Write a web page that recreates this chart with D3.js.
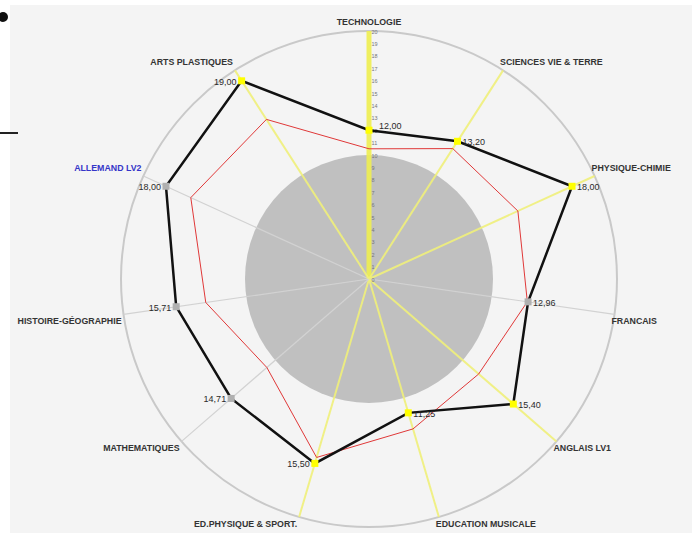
<!DOCTYPE html>
<html>
<head>
<meta charset="utf-8">
<script src="https://cdn.jsdelivr.net/npm/d3@7/dist/d3.min.js"></script>
<style>
  html, body { margin: 0; padding: 0; background: #ffffff; }
  svg { display: block; }
</style>
</head>
<body>
<svg id="chart" width="698" height="533"></svg>
<script>
// Subjects, clockwise from the top
const categories = [
  "TECHNOLOGIE", "SCIENCES VIE & TERRE", "PHYSIQUE-CHIMIE", "FRANCAIS",
  "ANGLAIS LV1", "EDUCATION MUSICALE", "ED.PHYSIQUE & SPORT.", "MATHEMATIQUES",
  "HISTOIRE-GÉOGRAPHIE", "ALLEMAND LV2", "ARTS PLASTIQUES"
];
// Student marks (labelled on the chart)
const studentScores = [12.00, 13.20, 18.00, 12.96, 15.40, 11.25, 15.50, 14.71, 15.71, 18.00, 19.00];
// Class averages (red outline)
const classAverages = [10.5, 12.5, 13.2, 12.9, 11.7, 12.6, 15.0, 10.9, 13.3, 15.8, 15.3];
// Subjects whose axis is highlighted
const highlighted = [true, true, true, false, true, true, true, false, false, false, true];
// Currently selected subject
const selectedSubject = "ALLEMAND LV2";
// Scale graduations along the first axis
const scaleTicks = [0, 1, 2, 3, 4, 5, 6, 7, 8, 9, 10, 11, 12, 13, 14, 15, 16, 17, 18, 19, 20];
const scaleMax = 20;
const passMark = 10;

const svg = d3.select("#chart");
const cx = 369, cy = 279, R = 248;
const font = "'Liberation Sans', Arial, sans-serif";

const r = d3.scaleLinear().domain([0, scaleMax]).range([0, R]);
const angle = d3.scaleLinear().domain([0, categories.length]).range([0, 2 * Math.PI]);
const ang = i => angle(i);
const pt = (i, v) => [cx + r(v) * Math.sin(ang(i)), cy - r(v) * Math.cos(ang(i))];

// Panel background and margin decorations
svg.append("rect").attr("x", 10).attr("y", 5).attr("width", 682).attr("height", 528)
  .attr("fill", "#f4f4f4");
svg.append("circle").attr("cx", 3).attr("cy", 17).attr("r", 5).attr("fill", "#111");
svg.append("line").attr("x1", 0).attr("x2", 18).attr("y1", 133).attr("y2", 133)
  .attr("stroke", "#222").attr("stroke-width", 2);

const g = svg.append("g");

// Outer ring at the maximum mark
g.append("circle").attr("cx", cx).attr("cy", cy).attr("r", r(scaleMax))
  .attr("fill", "none").attr("stroke", "#c9c9c9").attr("stroke-width", 2);

// Below-average zone
g.append("circle").attr("cx", cx).attr("cy", cy).attr("r", r(passMark))
  .attr("fill", "#c0c0c0");

// Axes
categories.forEach((c, i) => {
  const [x2, y2] = pt(i, scaleMax);
  g.append("line")
    .attr("x1", cx).attr("y1", cy).attr("x2", x2).attr("y2", y2)
    .attr("stroke", highlighted[i] ? (i === 0 ? "#eeee50" : "#f0f07a") : "#d2d2d2")
    .attr("stroke-opacity", highlighted[i] ? 0.9 : 1)
    .attr("stroke-width", highlighted[i] ? (i === 0 ? 5 : 2) : 1.2);
});

// Graduations along the first axis
g.selectAll("text.tick").data(scaleTicks).enter().append("text")
  .attr("class", "tick")
  .attr("x", cx + 2.5)
  .attr("y", d => cy - r(d) + 2.5)
  .attr("font-family", font).attr("font-size", 5.5)
  .attr("fill", "#777")
  .text(d => d);

const line = d3.line().curve(d3.curveLinearClosed);

// Class average outline
g.append("path")
  .attr("d", line(classAverages.map((v, i) => pt(i, v))))
  .attr("fill", "none").attr("stroke", "#e03838").attr("stroke-width", 1);

// Student outline
g.append("path")
  .attr("d", line(studentScores.map((v, i) => pt(i, v))))
  .attr("fill", "none").attr("stroke", "#111").attr("stroke-width", 2.5)
  .attr("stroke-linejoin", "miter");

// Markers
studentScores.forEach((v, i) => {
  const [x, y] = pt(i, v);
  g.append("rect").attr("x", x - 3.5).attr("y", y - 3.5).attr("width", 7).attr("height", 7)
    .attr("fill", highlighted[i] ? "#ffff00" : "#b0b0b0");
});

// Value labels (the first axis carries the graduations, so its label sits a bit further out)
const fmt = v => d3.format(".2f")(v).replace(".", ",");
studentScores.forEach((v, i) => {
  const [x, y] = pt(i, v);
  const right = Math.sin(ang(i)) >= -0.01;
  const dx = i === 0 ? 10 : 5;
  g.append("text")
    .attr("x", right ? x + dx : x - dx)
    .attr("y", i === 0 ? y - 1 : y + 4)
    .attr("text-anchor", right ? "start" : "end")
    .attr("font-family", font).attr("font-size", 9)
    .attr("fill", "#2a2a2a")
    .text(fmt(v));
});

// Subject labels
categories.forEach((c, i) => {
  const [x, y] = pt(i, scaleMax);
  const s = Math.sin(ang(i)), co = Math.cos(ang(i));
  let anchor = "middle", tx = x, ty = y - 6;
  if (s > 0.01) { anchor = "start"; tx = x - 3; }
  else if (s < -0.01) { anchor = "end"; tx = x - 2; }
  if (Math.abs(s) > 0.01) ty = co > 0 ? y - 5 : y + 10;
  g.append("text")
    .attr("x", tx).attr("y", ty)
    .attr("text-anchor", anchor)
    .attr("font-family", font).attr("font-size", 8.8).attr("font-weight", "bold")
    .attr("fill", c === selectedSubject ? "#3535c8" : "#333")
    .text(c);
});
</script>
</body>
</html>
